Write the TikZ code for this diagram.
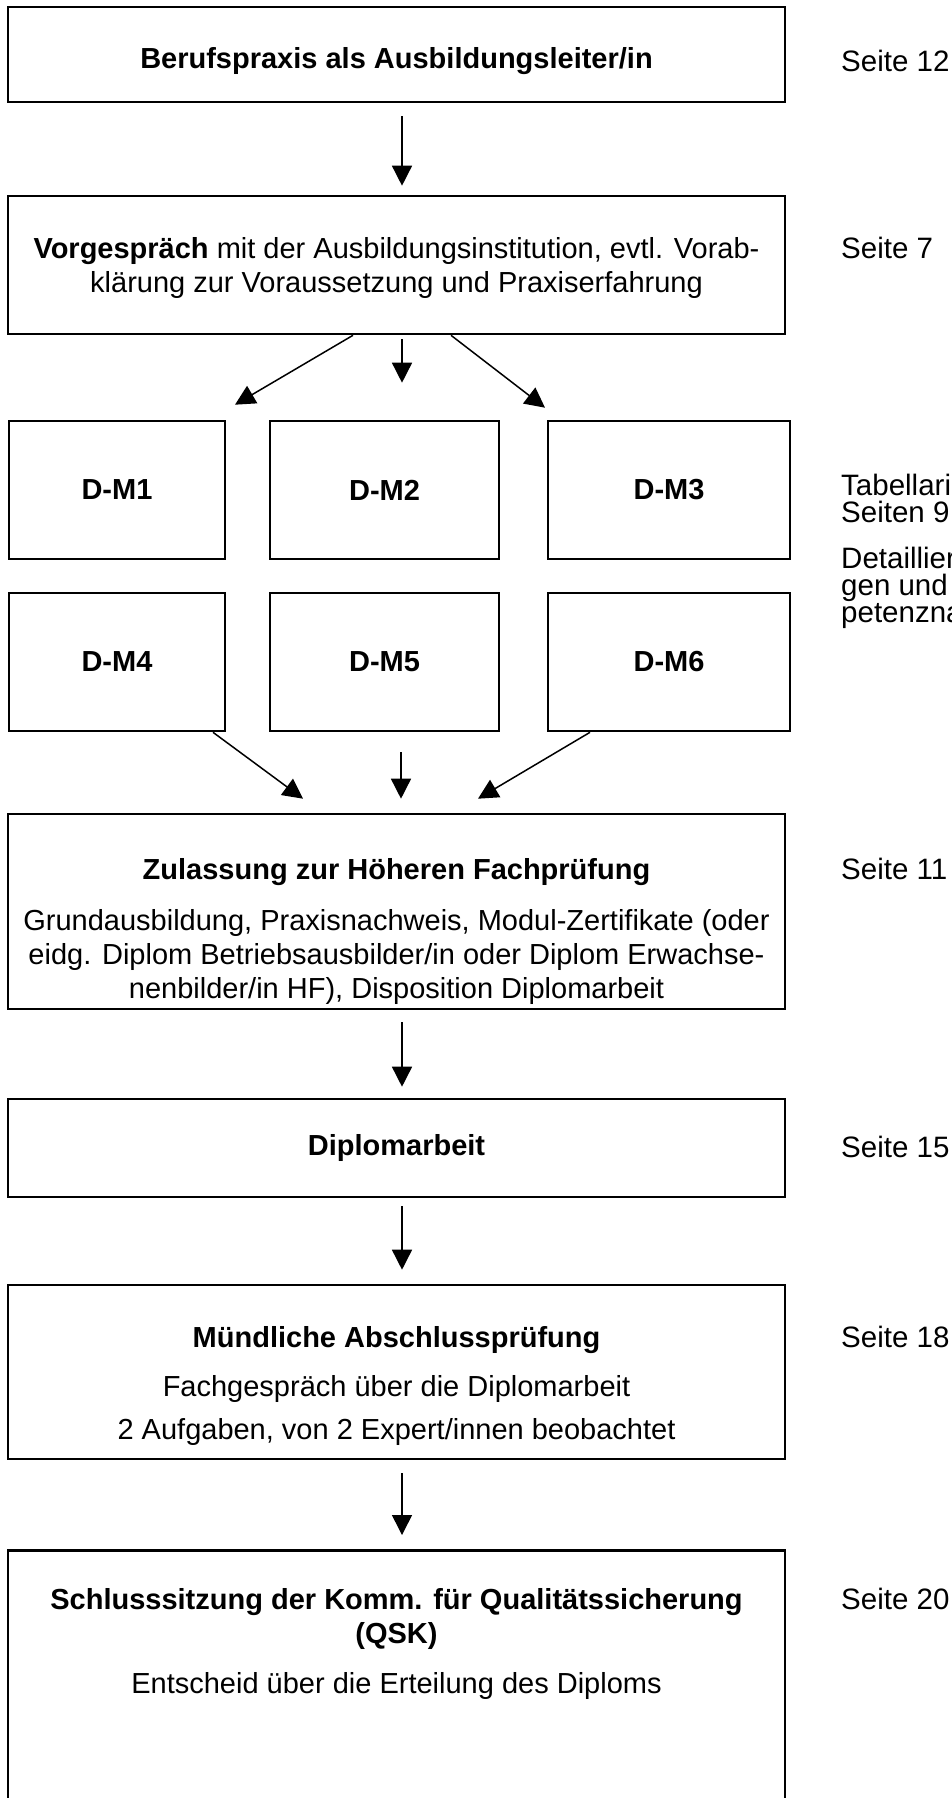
\documentclass[tikz,border=0pt]{standalone}
\usepackage{fontspec}
\setmainfont{Liberation Sans}
\usetikzlibrary{arrows.meta}
\newcommand{\kopf}[1]{\rule{0pt}{#1}}

\begin{document}
\begin{tikzpicture}[x=1pt, y=-1pt,
  stage/.style={rectangle, draw=black, line width=2.6pt, align=center, inner sep=0pt,
                minimum width=777pt, font=\fontsize{29}{34}\selectfont},
  modul/.style={rectangle, draw=black, line width=2.6pt, inner sep=0pt,
                minimum height=138pt, font=\bfseries\fontsize{29}{34}\selectfont},
  ref/.style={anchor=base west, align=left, inner sep=0pt, font=\fontsize{29.5}{27}\selectfont},
  arr/.style={-{Triangle[length=20pt, width=20pt]}, line width=1.5pt}
]
\useasboundingbox (0,0) rectangle (951,1798);

% Ablauf
\node[stage, minimum height=95pt] (praxis) at (396.5,54.5) {\kopf{33.5pt}\textbf{Berufspraxis als Ausbildungsleiter/in}};
\node[stage, minimum height=138pt] (vorgespraech) at (396.5,265)
  {\kopf{27pt}\textbf{Vorgespräch} mit der Ausbildungsinstitution, evtl. Vorab-\\klärung zur Voraussetzung und Praxiserfahrung};

% Module
\node[modul, minimum width=216pt] (dm1) at (117,490) {D-M1};
\node[modul, minimum width=229pt] (dm2) at (384.5,490) {D-M2};
\node[modul, minimum width=242pt] (dm3) at (669,490) {D-M3};
\node[modul, minimum width=216pt] (dm4) at (117,662) {D-M4};
\node[modul, minimum width=229pt] (dm5) at (384.5,662) {D-M5};
\node[modul, minimum width=242pt] (dm6) at (669,662) {D-M6};

\node[stage, minimum height=195pt] (zulassung) at (396.5,911.5)
  {\kopf{61.5pt}\textbf{Zulassung zur Höheren Fachprüfung}\\[17pt]
   Grundausbildung, Praxisnachweis, Modul-Zertifikate (oder\\
   eidg. Diplom Betriebsausbilder/in oder Diplom Erwachse-\\
   nenbilder/in HF), Disposition Diplomarbeit};
\node[stage, minimum height=98pt] (diplom) at (396.5,1148) {\textbf{Diplomarbeit}};
\node[stage, minimum height=174pt] (muendlich) at (396.5,1372)
  {\kopf{49.5pt}\textbf{Mündliche Abschlussprüfung}\\[15pt]
   Fachgespräch über die Diplomarbeit\\[9pt]
   2 Aufgaben, von 2 Expert/innen beobachtet};
\node[stage, anchor=north, inner ysep=38pt, text depth=300pt] (schluss) at (396.5,1549)
  {\textbf{Schlusssitzung der Komm. für Qualitätssicherung}\\
   \textbf{(QSK)}\\[16pt]
   Entscheid über die Erteilung des Diploms};

% Seitenverweise
\node[ref] (s12) at (841,72) {Seite 12};
\node[ref] (s7) at (841,258) {Seite 7};
\node[ref, anchor=north west] (tabelle) at (841,474) {Tabellari\\Seiten 9};
\node[ref, anchor=north west] (detail) at (841,547) {Detaillier\\gen und\\petenzna};
\node[ref] (s11) at (841,879) {Seite 11};
\node[ref] (s15) at (841,1157) {Seite 15};
\node[ref] (s18) at (841,1347) {Seite 18};
\node[ref] (s20) at (841,1609) {Seite 20};

% Pfeile
\draw[arr, shorten <=13pt, shorten >=9pt] ([xshift=5.5pt]praxis.south) -- ([xshift=5.5pt]vorgespraech.north);
\draw[arr] ([xshift=-43.5pt]vorgespraech.south) -- ([xshift=118pt,yshift=15pt]dm1.north);
\draw[arr] ([xshift=5.5pt,yshift=-4pt]vorgespraech.south) -- ([xshift=17.5pt,yshift=37pt]dm2.north);
\draw[arr] ([xshift=54.5pt]vorgespraech.south) -- ([xshift=-124pt,yshift=12pt]dm3.north);
\draw[arr] ([xshift=96pt]dm4.south) -- ([xshift=-93.5pt,yshift=14pt]zulassung.north);
\draw[arr] ([xshift=16.5pt,yshift=-20pt]dm5.south) -- ([xshift=4.5pt,yshift=14pt]zulassung.north);
\draw[arr] ([xshift=-79pt]dm6.south) -- ([xshift=81.5pt,yshift=14pt]zulassung.north);
\draw[arr, shorten <=12pt, shorten >=11pt] ([xshift=5.5pt]zulassung.south) -- ([xshift=5.5pt]diplom.north);
\draw[arr, shorten <=8pt, shorten >=14pt] ([xshift=5.5pt]diplom.south) -- ([xshift=5.5pt]muendlich.north);
\draw[arr, shorten <=13pt, shorten >=14pt] ([xshift=5.5pt]muendlich.south) -- ([xshift=5.5pt]schluss.north);
\end{tikzpicture}
\end{document}
